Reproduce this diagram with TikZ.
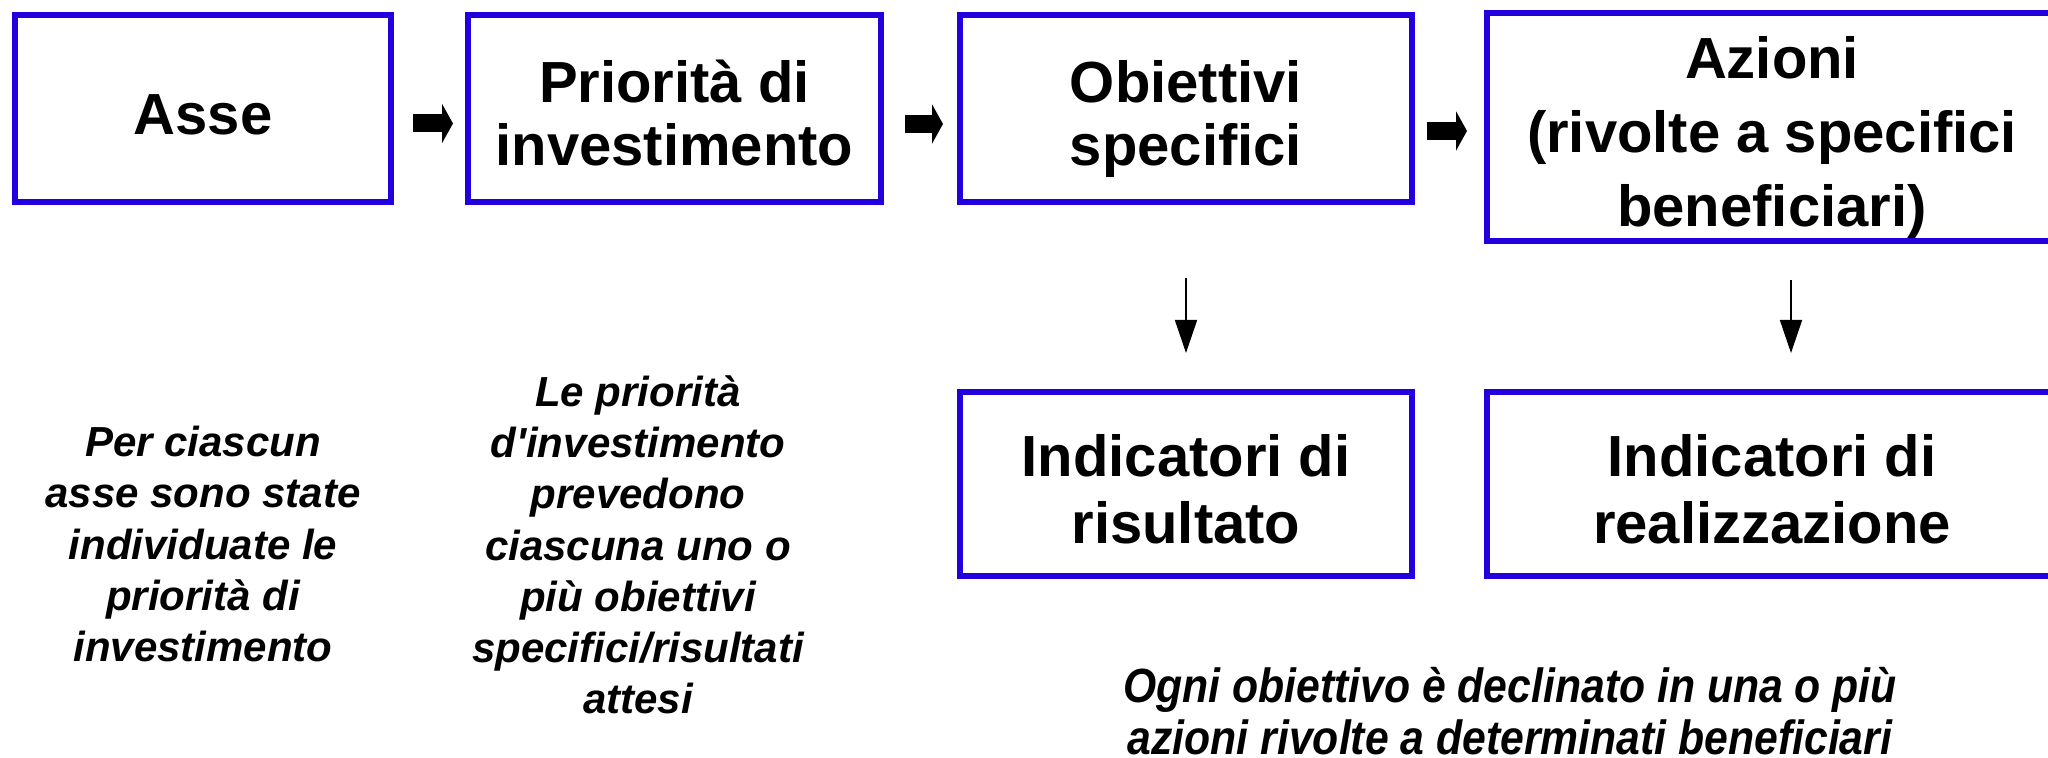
\documentclass[tikz,border=0pt]{standalone}
\usepackage{fontspec}
\setmainfont{Liberation Sans}
\newfontfamily\narrowsans[FakeStretch=0.89]{Liberation Sans}
\usetikzlibrary{arrows.meta}
\definecolor{BoxClr}{RGB}{34,0,221}

\begin{document}
\begin{tikzpicture}[x=0.25pt,y=-0.25pt,
  box/.style={draw=BoxClr,line width=1.5pt,inner sep=0pt,align=center,
    font=\fontsize{14.5}{15.75}\selectfont\bfseries,
    text height=32.25pt,text depth=3.5pt},
  note/.style={align=center,inner sep=0pt,
    font=\fontsize{10.5}{12.8}\selectfont\bfseries\itshape},
  fatarrow/.style={line width=4.5pt,-{Triangle[length=2.75pt,width=9.75pt]}},
  thinarrow/.style={line width=0.4pt,-{Triangle[length=8.25pt,width=5.5pt]}}]

\useasboundingbox (0,0) rectangle (2048,758);

\node[box,minimum width=94pt,minimum height=46.75pt,text height=16.5pt] (asse) at (203,108.5) {Asse};
\node[box,minimum width=103.25pt,minimum height=46.75pt] (prio) at (674.5,108.5) {Priorità di\\investimento};
\node[box,minimum width=113pt,minimum height=46.75pt] (obiet) at (1186,108.5) {Obiettivi\\specifici};
\node[box,minimum width=142.5pt,minimum height=56pt,text height=53.5pt,
  font=\fontsize{14.5}{18.5}\selectfont\bfseries] (azioni) at (1772,127) {Azioni\\(rivolte a specifici\\beneficiari)};

\node[box,minimum width=113pt,minimum height=46pt,text height=33.25pt,
  font=\fontsize{14.5}{16.75}\selectfont\bfseries] (indris) at (1186,484) {Indicatori di\\risultato};
\node[box,minimum width=142.5pt,minimum height=46pt,text height=33.25pt,
  font=\fontsize{14.5}{16.75}\selectfont\bfseries] (indreal) at (1772,484) {Indicatori di\\realizzazione};

\draw[fatarrow,shorten <=4.75pt,shorten >=3pt] ([yshift=-3.75pt]asse.east) -- ([yshift=-3.75pt]prio.west);
\draw[fatarrow,shorten <=5.25pt,shorten >=3.5pt] ([yshift=-3.875pt]prio.east) -- ([yshift=-3.875pt]obiet.west);
\draw[fatarrow,shorten <=3pt,shorten >=4.25pt] ([yshift=-5.625pt]obiet.east) -- ([yshift=-1pt]azioni.west);

\draw[thinarrow,shorten <=18.25pt,shorten >=9pt] (obiet.south) -- (indris.north);
\draw[thinarrow,shorten <=9pt,shorten >=9pt] ([xshift=4.75pt]azioni.south) -- ([xshift=4.75pt]indreal.north);

\node[note] (noteasse) at (203,544) {Per ciascun\\asse sono state\\individuate le\\priorità di\\investimento};
\node[note] (noteprio) at (638,545) {Le priorità\\d\textquotesingle investimento\\prevedono\\ciascuna uno o\\più obiettivi\\specifici/risultati\\attesi};
\node[note,font=\fontsize{12}{13}\selectfont\narrowsans\bfseries\itshape] (noteazioni) at (1510,711)
  {Ogni obiettivo è declinato in una o più\\azioni rivolte a determinati beneficiari};

\end{tikzpicture}
\end{document}
